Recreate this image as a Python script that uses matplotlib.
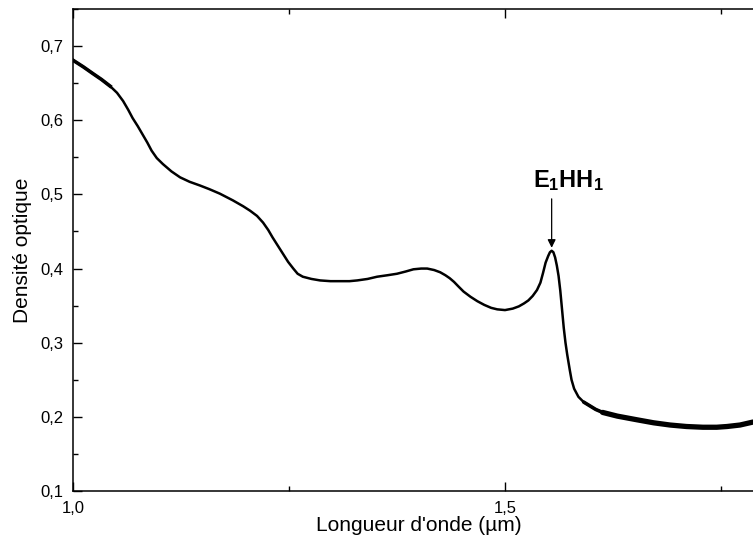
import matplotlib
matplotlib.use('Agg')
import matplotlib.pyplot as plt
import numpy as np
from matplotlib.ticker import MultipleLocator

# Spectre d'absorption
wavelength = [1.000, 1.012, 1.023, 1.033, 1.043, 1.051, 1.058, 1.064, 1.069, 1.075,
              1.080, 1.086, 1.091, 1.097, 1.104, 1.114, 1.124, 1.135, 1.147, 1.158,
              1.170, 1.185, 1.197, 1.205, 1.213, 1.220, 1.226, 1.231, 1.237, 1.243,
              1.249, 1.255, 1.260, 1.266, 1.276, 1.286, 1.298, 1.309, 1.320, 1.329,
              1.341, 1.352, 1.364, 1.375, 1.385, 1.394, 1.403, 1.410, 1.418, 1.425,
              1.431, 1.436, 1.441, 1.446, 1.452, 1.460, 1.468, 1.476, 1.484, 1.491,
              1.500, 1.509, 1.516, 1.522, 1.527, 1.532, 1.537, 1.541, 1.544, 1.547,
              1.550, 1.552, 1.554, 1.556, 1.558, 1.560, 1.562, 1.564, 1.566, 1.568,
              1.570, 1.572, 1.575, 1.577, 1.580, 1.585, 1.591, 1.598, 1.605, 1.613,
              1.630, 1.653, 1.672, 1.691, 1.710, 1.729, 1.745, 1.757, 1.772, 1.787]
density = [0.681, 0.672, 0.663, 0.655, 0.646, 0.637, 0.626, 0.614, 0.603, 0.592,
           0.582, 0.570, 0.559, 0.549, 0.541, 0.531, 0.523, 0.517, 0.512, 0.507,
           0.501, 0.492, 0.484, 0.478, 0.471, 0.462, 0.452, 0.442, 0.431, 0.420,
           0.409, 0.400, 0.393, 0.389, 0.386, 0.384, 0.383, 0.383, 0.383, 0.384,
           0.386, 0.389, 0.391, 0.393, 0.396, 0.399, 0.400, 0.400, 0.398, 0.395,
           0.391, 0.387, 0.382, 0.376, 0.369, 0.362, 0.356, 0.351, 0.347, 0.345,
           0.344, 0.346, 0.349, 0.353, 0.357, 0.363, 0.371, 0.381, 0.394, 0.408,
           0.417, 0.422, 0.424, 0.422, 0.415, 0.404, 0.390, 0.370, 0.345, 0.320,
           0.300, 0.284, 0.263, 0.250, 0.238, 0.227, 0.220, 0.215, 0.210, 0.206,
           0.201, 0.196, 0.192, 0.189, 0.187, 0.186, 0.186, 0.187, 0.189, 0.193]

xtick_vals = [1.0, 1.5]
xtick_labels = ['1,0', '1,5']
ytick_vals = [0.1, 0.2, 0.3, 0.4, 0.5, 0.6, 0.7]
ytick_labels = ['0,1', '0,2', '0,3', '0,4', '0,5', '0,6', '0,7']

plt.rcParams['font.family'] = ['Liberation Sans', 'DejaVu Sans']
plt.rcParams['mathtext.fontset'] = 'custom'
plt.rcParams['mathtext.rm'] = 'Liberation Sans'
plt.rcParams['mathtext.bf'] = 'Liberation Sans:bold'

fig = plt.figure(figsize=(7.53, 5.44), dpi=100)
# l'axe dépasse à droite (figure rognée)
ax = fig.add_axes([0.0969, 0.0974, 0.918, 0.886])

x = np.array(wavelength)
y = np.array(density)
ax.plot(x, y, color='black', lw=1.8, solid_joinstyle='round')
# bruit plus fort en début et fin de spectre -> trait plus épais
mid = (x >= 1.59) & (x <= 1.62)
ax.plot(x[mid], y[mid], color='black', lw=2.6, solid_capstyle='round')
tail = x >= 1.613
ax.plot(x[tail], y[tail], color='black', lw=3.8, solid_capstyle='round')
head = x <= 1.05
ax.plot(x[head], y[head], color='black', lw=2.6)

ax.set_xlim(1.0, 1.8)
ax.set_ylim(0.1, 0.75)

ax.set_xticks(xtick_vals)
ax.set_xticklabels(xtick_labels)
ax.set_yticks(ytick_vals)
ax.set_yticklabels(ytick_labels)
ax.xaxis.set_minor_locator(MultipleLocator(0.25))
ax.yaxis.set_minor_locator(MultipleLocator(0.05))

ax.tick_params(which='both', direction='in', top=True, right=False,
               labelsize=12, width=1, color='black')
ax.tick_params(which='major', length=6.5, pad=7)
ax.tick_params(which='minor', length=3.6)
for side in ['left', 'bottom', 'top']:
    ax.spines[side].set_linewidth(1.1)
ax.spines['right'].set_visible(False)

ax.set_xlabel("Longueur d'onde (µm)", fontsize=15, labelpad=0)
ax.set_ylabel('Densité optique', fontsize=15, labelpad=6)

# Pic excitonique E1HH1
ax.annotate('', xy=(1.554, 0.428), xytext=(1.554, 0.494),
            arrowprops=dict(arrowstyle='-|>', color='black', lw=0.9,
                            mutation_scale=12, shrinkA=0, shrinkB=0))
ax.text(1.532, 0.510, r'$\mathbf{E_1HH_1}$', fontsize=17, ha='left', va='baseline')

fig.savefig('out.png', dpi=100)
